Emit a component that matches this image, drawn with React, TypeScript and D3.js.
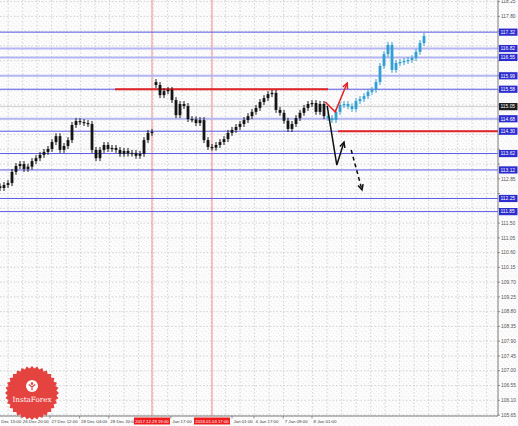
import React from "react";
import * as d3 from "d3";

const WIDTH = 518;
const HEIGHT = 426;
const PLOT_RIGHT = 498;
const PLOT_BOTTOM = 416;

// hourly closes, black history (one entry per candle slot)
const closes = [
  112.57, 112.66, 112.72, 113.06, 113.24, 113.30, 113.15, 113.22, 113.39, 113.48,
  113.58, 113.67, 113.76, 113.97, 114.15, 113.73, 113.85, 114.03, 114.49, 114.61,
  114.58, 114.55, 114.52, 113.73, 113.48, 113.73, 113.88, 113.76, 113.79, 113.73,
  113.61, 113.70, 113.62, 113.64, 113.55, 113.61, 114.03, 114.25, 114.28, 115.71,
  115.40, 115.52, 115.56, 115.25, 114.79, 115.13, 115.07, 114.67, 114.66, 114.55,
  114.64, 114.03, 113.82, 113.80, 113.88, 113.97, 114.06, 114.25, 114.34, 114.43,
  114.52, 114.64, 114.76, 114.89, 115.01, 115.19, 115.31, 115.43, 115.47, 114.95,
  114.86, 114.62, 114.37, 114.52, 114.70, 114.86, 115.01, 115.13, 115.16, 114.89,
  115.13, 114.76,
];
const firstOpen = 112.62;
const gapIndex = 39; // first candle after the weekend gap
const gapOpen = 115.8;

// blue forecast candles
const forecast = [
  114.70, 114.64, 114.89, 115.10, 115.13, 115.06, 114.98, 115.22, 115.28, 115.37,
  115.50, 115.56, 115.80, 116.29, 116.65, 116.93, 116.17, 116.38, 116.41, 116.44,
  116.47, 116.53, 116.72, 116.99, 117.20,
];

const priceTicks = [
  118.25, 117.8, 117.35, 116.9, 116.45, 116.0, 115.55, 115.1, 114.65, 114.2,
  113.75, 113.3, 112.85, 112.4, 111.95, 111.5, 111.05, 110.6, 110.15, 109.7,
  109.25, 108.8, 108.35, 107.9, 107.45, 107.0, 106.55, 106.1, 105.65,
];

const strongLevels = [117.32, 115.58, 114.3, 113.62, 113.12, 112.25, 111.85];
const softLevels = [116.82, 116.55, 115.99, 114.68];
const currentPrice = 115.05;

// red resistance / support segments: [fromIndex, toIndex, price]
const redSegments: [number, number, number][] = [
  [28.75, 82, 115.58],
  [84.5, 124.5, 114.3],
];

// time axis labels (two of them sit partly under the red line labels)
const timeTickIdx = [-1.6, 5.3, 12.5, 19.9, 27.2, 42.7, 58.0, 63.5, 70.8, 78.0];
const timeTickLabels = [
  "25 Dec 15:00", "26 Dec 20:00", "27 Dec 12:00", "28 Dec 04:00", "28 Dec 20:00",
  "Jan 17:00", "Jan 01:00", "4 Jan 17:00", "7 Jan 09:00", "8 Jan 01:00",
];

const vLineIdx = [38, 53];
const vLineLabels = ["2017.12.29 19:00", "2018.01.03 17:00"];

// forecast paths in [index, price]
const redPath: [number, number][] = [[81.3, 115.19], [83.8, 114.89], [86.8, 115.77]];
const blackPath: [number, number][] = [[81.8, 115.07], [84.2, 113.27], [86.0, 113.97]];
const dashedPath: [number, number][] = [[87.8, 113.73], [90.5, 112.51]];

const WICK = 0.09;
const FONT = "'Liberation Sans', Arial, sans-serif";

type Candle = { i: number; o: number; h: number; l: number; c: number };

function arrowHead(p0: number[], p1: number[], len = 6, ang = 0.45) {
  const a = Math.atan2(p1[1] - p0[1], p1[0] - p0[0]);
  const l = [p1[0] - len * Math.cos(a - ang), p1[1] - len * Math.sin(a - ang)];
  const r = [p1[0] - len * Math.cos(a + ang), p1[1] - len * Math.sin(a + ang)];
  return `M${l[0]},${l[1]}L${p1[0]},${p1[1]}L${r[0]},${r[1]}`;
}

export default function App() {
  const x = d3.scaleLinear().domain([0, 124.5]).range([0, PLOT_RIGHT]);
  const y = d3.scaleLinear().domain([105.62, 118.3]).range([PLOT_BOTTOM, 0]);

  const black: Candle[] = closes.map((c, i) => {
    const o = i === 0 ? firstOpen : i === gapIndex ? gapOpen : closes[i - 1];
    return { i, o, c, h: Math.max(o, c) + WICK, l: Math.min(o, c) - WICK };
  });
  const blue: Candle[] = forecast.map((c, j) => {
    const o = j === 0 ? closes[closes.length - 1] : forecast[j - 1];
    return { i: closes.length + j, o, c, h: Math.max(o, c) + WICK, l: Math.min(o, c) - WICK };
  });

  const line = d3.line<[number, number]>().x(d => x(d[0])).y(d => y(d[1]));
  const px = (p: [number, number]) => [x(p[0]), y(p[1])];

  // grid: every 14.5px, aligned with the first time tick
  const gridIdx = d3.range(-1.6, 125, 3.625);

  const boxed = softLevels.concat(strongLevels, [currentPrice]);
  const freeTicks = priceTicks.filter(p => boxed.every(b => Math.abs(y(b) - y(p)) > 6.5));

  // logo star
  const star = d3.range(64).map(k => {
    const a = (k / 64) * Math.PI * 2;
    const r = k % 2 === 0 ? 27 : 24.5;
    return [32 + r * Math.cos(a), 393 + r * Math.sin(a)] as [number, number];
  });

  const drawCandles = (data: Candle[], color: string) =>
    data.map(d => {
      const cx = x(d.i);
      const top = y(Math.max(d.o, d.c));
      const bot = y(Math.min(d.o, d.c));
      return (
        <g key={`${color}${d.i}`}>
          <line x1={cx} x2={cx} y1={y(d.h)} y2={y(d.l)} stroke={color} strokeWidth={1} />
          <rect x={cx - 1.4} y={top} width={2.8} height={Math.max(1.2, bot - top)} fill={color} />
        </g>
      );
    });

  const priceBox = (p: number, fill: string, key: string) => (
    <g key={key}>
      <rect x={499} y={y(p) - 3.6} width={18.5} height={7.2} fill={fill} />
      <text x={500.5} y={y(p) + 1.8} fontSize={4.9} fill="#fff" fontFamily={FONT}>{p.toFixed(2)}</text>
    </g>
  );

  return (
    <svg width={WIDTH} height={HEIGHT} style={{ position: "absolute", left: 0, top: 0, display: "block" }}>
      <defs>
        <pattern id="noise" width={5} height={5} patternUnits="userSpaceOnUse">
          <rect width={5} height={5} fill="#fcfcfc" />
          <rect x={1} y={1} width={1} height={1} fill="#e9e9e9" />
          <rect x={3} y={3} width={1} height={1} fill="#eeeeee" />
          <rect x={4} y={0} width={1} height={1} fill="#f0f0f0" />
        </pattern>
        <clipPath id="plot"><rect x={0} y={0} width={PLOT_RIGHT} height={PLOT_BOTTOM} /></clipPath>
      </defs>
      <rect width={WIDTH} height={HEIGHT} fill="url(#noise)" />

      <g clipPath="url(#plot)">
        {/* grid */}
        {gridIdx.map((g, k) => (
          <line key={`vg${k}`} x1={x(g)} x2={x(g)} y1={0} y2={PLOT_BOTTOM}
            stroke="#cacaca" strokeWidth={0.8} strokeDasharray="1.5,2" />
        ))}
        {priceTicks.map(p => (
          <line key={`hg${p}`} x1={0} x2={PLOT_RIGHT} y1={y(p)} y2={y(p)}
            stroke="#cacaca" strokeWidth={0.8} strokeDasharray="1.5,2" />
        ))}

        {/* vertical red lines */}
        {vLineIdx.map(v => (
          <line key={`vl${v}`} x1={x(v)} x2={x(v)} y1={0} y2={PLOT_BOTTOM} stroke="#f28b8b" strokeWidth={1} />
        ))}

        {/* levels */}
        {softLevels.map(p => (
          <line key={`sl${p}`} x1={0} x2={PLOT_RIGHT} y1={y(p)} y2={y(p)} stroke="#b3b6f2" strokeWidth={2} />
        ))}
        {strongLevels.map(p => (
          <line key={`st${p}`} x1={0} x2={PLOT_RIGHT} y1={y(p)} y2={y(p)} stroke="#5a5ae6" strokeWidth={1} />
        ))}
        <line x1={0} x2={PLOT_RIGHT} y1={y(currentPrice)} y2={y(currentPrice)} stroke="#c4c4c4" strokeWidth={0.8} />

        {redSegments.map(([a, b, p]) => (
          <line key={`rs${a}`} x1={x(a)} x2={x(b)} y1={y(p)} y2={y(p)} stroke="#e32424" strokeWidth={2} />
        ))}

        {drawCandles(black, "#151515")}
        {drawCandles(blue, "#2f9fd4")}

        {/* forecast arrows */}
        <path d={line(redPath) || ""} fill="none" stroke="#e32424" strokeWidth={1.5} />
        <path d={arrowHead(px(redPath[1]), px(redPath[2]))} fill="none" stroke="#e32424" strokeWidth={1.5} />
        <path d={line(blackPath) || ""} fill="none" stroke="#111" strokeWidth={1.5} />
        <path d={arrowHead(px(blackPath[1]), px(blackPath[2]))} fill="none" stroke="#111" strokeWidth={1.5} />
        <path d={line(dashedPath) || ""} fill="none" stroke="#111" strokeWidth={1.5} strokeDasharray="4,3" />
        <path d={arrowHead(px(dashedPath[0]), px(dashedPath[1]))} fill="none" stroke="#111" strokeWidth={1.5} />
      </g>

      {/* axes */}
      <line x1={PLOT_RIGHT} x2={PLOT_RIGHT} y1={0} y2={PLOT_BOTTOM} stroke="#7a7a7a" strokeWidth={1} />
      <line x1={0} x2={PLOT_RIGHT} y1={PLOT_BOTTOM} y2={PLOT_BOTTOM} stroke="#7a7a7a" strokeWidth={1} />

      {priceTicks.map(p => (
        <line key={`ptk${p}`} x1={PLOT_RIGHT} x2={PLOT_RIGHT + 2} y1={y(p)} y2={y(p)} stroke="#7a7a7a" strokeWidth={0.8} />
      ))}
      {freeTicks.map(p => (
        <text key={`pt${p}`} x={501} y={y(p) + 1.7} fontSize={4.9} fill="#555" fontFamily={FONT}>{p.toFixed(2)}</text>
      ))}
      {softLevels.concat(strongLevels).map(p => priceBox(p, "#2c2ccf", `pb${p}`))}
      {priceBox(currentPrice, "#1c1c1c", "cur")}

      {timeTickIdx.map((t, k) => (
        <g key={`tt${k}`}>
          <line x1={x(t)} x2={x(t)} y1={PLOT_BOTTOM} y2={PLOT_BOTTOM + 2.5} stroke="#7a7a7a" strokeWidth={0.8} />
          <text x={x(t) + 1.5} y={423} fontSize={4.4} fill="#444" fontFamily={FONT}>{timeTickLabels[k]}</text>
        </g>
      ))}
      {vLineIdx.map((v, k) => (
        <g key={`vb${v}`}>
          <rect x={x(v) - 18} y={417.5} width={36} height={7} fill="#ee1c1c" />
          <text x={x(v)} y={422.8} fontSize={4.3} fill="#fff" textAnchor="middle" fontFamily={FONT}>{vLineLabels[k]}</text>
        </g>
      ))}

      {/* InstaForex logo */}
      <path d={(d3.line()(star) || "") + "Z"} fill="#e5433f" />
      <circle cx={32} cy={386} r={6} fill="#fff" />
      <circle cx={32} cy={383.6} r={1.3} fill="#e5433f" />
      <path d="M28.8,384.5 L32,387 L35.2,384.5 M32,387 L32,390.5" stroke="#e5433f" strokeWidth={1.2} fill="none" />
      <text x={32} y={401.5} fontSize={7.2} fill="#fff" textAnchor="middle" fontFamily="'DejaVu Serif', 'Liberation Serif', serif">InstaForex</text>
    </svg>
  );
}
